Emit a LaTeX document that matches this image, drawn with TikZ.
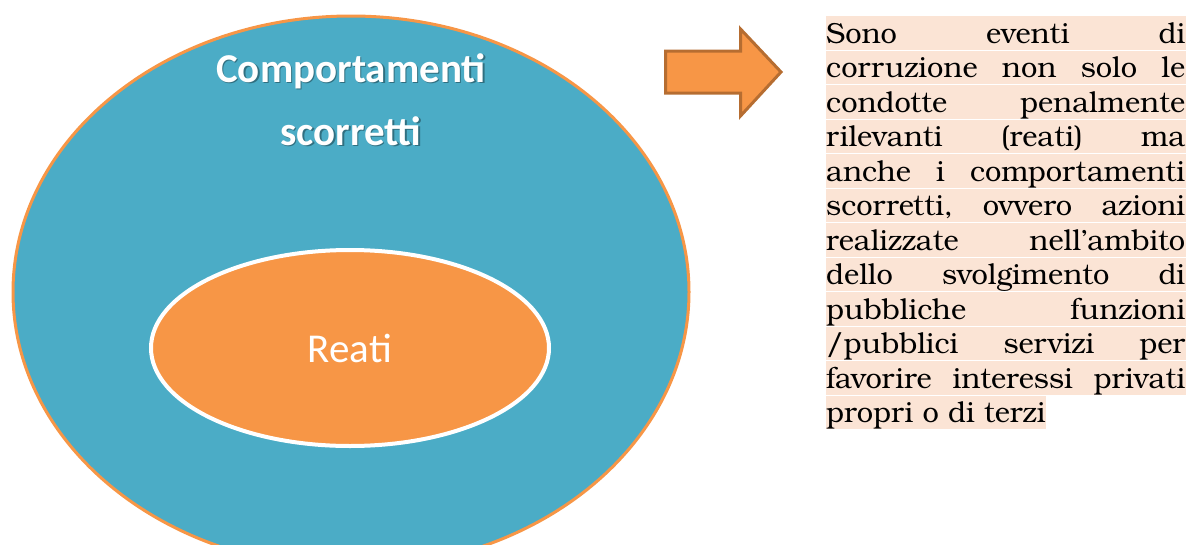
\documentclass[tikz,border=0pt]{standalone}
\usepackage{fontspec}
\setmainfont{TeX Gyre Bonum}
\newfontfamily\calibri{Carlito}
\usetikzlibrary{shapes.geometric}
\definecolor{ublue}{HTML}{4BACC6}
\definecolor{uorange}{HTML}{F79646}
\definecolor{ubrown}{HTML}{B66D31}
\definecolor{upeach}{HTML}{FBE4D5}
\tikzset{
  outerell/.style={ellipse, draw=uorange, line width=3pt, fill=ublue, minimum width=676pt, minimum height=552pt, inner sep=0pt},
  innerell/.style={ellipse, draw=white, line width=4pt, fill=uorange, minimum width=398pt, minimum height=196pt, inner sep=0pt},
  bigtitle/.style={text=white, font=\calibri\bfseries\fontsize{41pt}{41pt}\selectfont, anchor=base, inner sep=0pt},
  titleshadow/.style={text=black, opacity=0.35, font=\calibri\bfseries\fontsize{41pt}{41pt}\selectfont, anchor=base, inner sep=0pt},
  reatitext/.style={text=white, font=\calibri\fontsize{41pt}{41pt}\selectfont, anchor=base, inner sep=0pt},
  arrowshape/.style={fill=uorange, draw=ubrown, line width=3pt, line join=miter},
  bodyline/.style={anchor=base west, inner sep=0pt, font=\fontsize{29pt}{29pt}\selectfont, text=black},
}
\begin{document}
\begin{tikzpicture}[x=1pt, y=-1pt]
\useasboundingbox (0,0) rectangle (1187,544);
% big ellipse
\node[outerell] (outer) at (351,292) {};
\node[titleshadow] (t1s) at (352.5,83.5) {Comportamenti};
\node[titleshadow] (t2s) at (352.5,146.5) {scorretti};
\node[bigtitle] (t1) at (351,82) {Comportamenti};
\node[bigtitle] (t2) at (351,145) {scorretti};
% inner ellipse
\node[innerell] (inner) at (350,348) {};
\node[reatitext] (reati) at (350,362) {Reati};
% block arrow
\filldraw[arrowshape] (665.5,51) -- (740.5,51) -- (740.5,29) -- (781,72) -- (740.5,116) -- (740.5,93) -- (665.5,93) -- cycle;
% text lines with highlight
\def\linew{359pt}
\foreach \i/\t in {
  1/{\hbox to \linew{Sono\hfill eventi\hfill di}},
  2/{\hbox to \linew{corruzione\hfill non\hfill solo\hfill le}},
  3/{\hbox to \linew{condotte\hfill penalmente}},
  4/{\hbox to \linew{rilevanti\hfill (reati)\hfill ma}},
  5/{\hbox to \linew{anche\hfill i\hfill comportamenti}},
  6/{\hbox to \linew{scorretti,\hfill ovvero\hfill azioni}},
  7/{\hbox to \linew{realizzate\hfill nell’ambito}},
  8/{\hbox to \linew{dello\hfill svolgimento\hfill di}},
  9/{\hbox to \linew{pubbliche\hfill funzioni}},
  10/{\hbox to \linew{/pubblici\hfill servizi\hfill per}},
  11/{\hbox to \linew{favorire\hfill interessi\hfill privati}}} {
  \pgfmathsetmacro{\b}{43+(\i-1)*34.5}
  \fill[upeach] (826,\b-27) rectangle (1186,\b+6.5);
  \node[bodyline] (line\i) at (826,\b) {\t};
}
\fill[upeach] (826,395.5) rectangle (1046,429);
\node[bodyline] (line12) at (826,422.5) {propri o di terzi};
\end{tikzpicture}
\end{document}
